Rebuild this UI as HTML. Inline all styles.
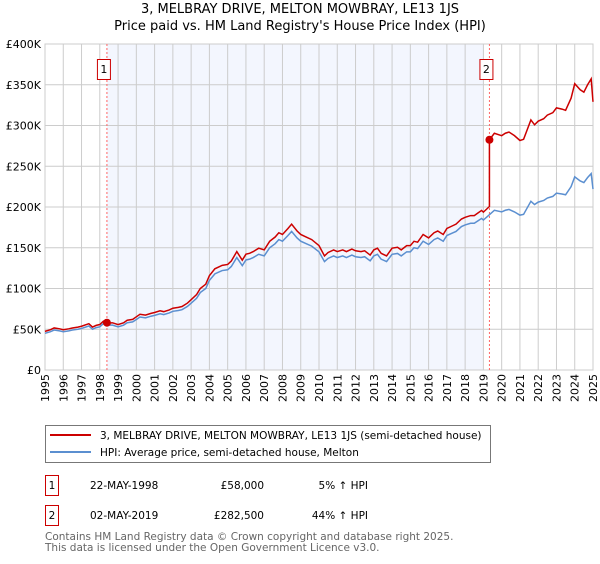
<!DOCTYPE html>
<html><head><meta charset="utf-8"><style>
body{margin:0;background:#fff;font-family:"DejaVu Sans","Liberation Sans",sans-serif;}
svg text{font-family:"DejaVu Sans","Liberation Sans",sans-serif;}
</style></head><body>
<svg id="c" width="600" height="560" viewBox="0 0 600 560">
<text x="300" y="13" text-anchor="middle" font-size="13">3, MELBRAY DRIVE, MELTON MOWBRAY, LE13 1JS</text>
<text x="300" y="30" text-anchor="middle" font-size="13">Price paid vs. HM Land Registry's House Price Index (HPI)</text>
<g id="plot"></g>
<rect x="45.5" y="425.5" width="445" height="37" fill="#fff" stroke="#777"/>
<line x1="50" y1="435" x2="91" y2="435" stroke="#cc0000" stroke-width="2"/>
<text x="100" y="439" font-size="10.5">3, MELBRAY DRIVE, MELTON MOWBRAY, LE13 1JS (semi-detached house)</text>
<line x1="50" y1="452" x2="91" y2="452" stroke="#5b8fd0" stroke-width="2"/>
<text x="100" y="456" font-size="10.5">HPI: Average price, semi-detached house, Melton</text>
<g>
<rect x="45.5" y="475.5" width="13" height="20" fill="#fff" stroke="#cc0000"/>
<text x="52" y="489" font-size="10.5" text-anchor="middle">1</text>
<text x="90" y="489" font-size="10.5">22-MAY-1998</text>
<text x="264" y="489" font-size="10.5" text-anchor="end">£58,000</text>
<text x="368" y="489" font-size="10.5" text-anchor="end">5% ↑ HPI</text>
</g>
<g>
<rect x="45.5" y="505.5" width="13" height="20" fill="#fff" stroke="#cc0000"/>
<text x="52" y="519" font-size="10.5" text-anchor="middle">2</text>
<text x="90" y="519" font-size="10.5">02-MAY-2019</text>
<text x="264" y="519" font-size="10.5" text-anchor="end">£282,500</text>
<text x="368" y="519" font-size="10.5" text-anchor="end">44% ↑ HPI</text>
</g>
<text x="45" y="540" font-size="10.5" fill="#666">Contains HM Land Registry data © Crown copyright and database right 2025.</text>
<text x="45" y="551" font-size="10.5" fill="#666">This data is licensed under the Open Government Licence v3.0.</text>
</svg>
<script>
const hpiDates=[1995,1995.3,1995.5,1995.8,1996,1996.3,1996.5,1996.8,1997,1997.4,1997.6,1997.8,1998,1998.2,1998.4,1998.7,1999,1999.3,1999.5,1999.8,2000,2000.2,2000.5,2000.8,2001,2001.3,2001.5,2001.8,2002,2002.3,2002.5,2002.8,2003,2003.3,2003.5,2003.8,2004,2004.3,2004.5,2004.7,2005,2005.2,2005.5,2005.8,2006,2006.2,2006.4,2006.7,2007,2007.3,2007.6,2007.8,2008,2008.3,2008.5,2008.8,2009,2009.3,2009.6,2010,2010.3,2010.5,2010.8,2011,2011.3,2011.5,2011.8,2012,2012.3,2012.5,2012.8,2013,2013.2,2013.4,2013.7,2014,2014.3,2014.5,2014.8,2015,2015.2,2015.4,2015.7,2016,2016.3,2016.5,2016.8,2017,2017.3,2017.5,2017.8,2018,2018.3,2018.5,2018.7,2018.9,2019,2019.3,2019.6,2020,2020.2,2020.4,2020.7,2021,2021.2,2021.4,2021.6,2021.8,2022,2022.3,2022.5,2022.8,2023,2023.3,2023.5,2023.8,2024,2024.3,2024.5,2024.7,2024.9,2025];
const hpiValues=[45,47,49,48,47,48,49,50,51,54,50,52,53,57,55,55,53,55,58,59,62,65,64,66,67,69,68,70,72,73,74,78,82,88,95,100,110,118,120,122,123,127,138,128,135,136,138,142,140,150,155,160,158,165,170,162,158,155,152,145,133,137,140,138,140,138,141,139,138,139,134,140,142,136,133,142,143,140,145,145,150,149,158,154,160,162,158,165,168,170,176,178,180,180,183,186,184,190,196,194,196,197,194,190,191,199,207,203,206,208,211,213,217,216,215,225,237,232,230,236,241,222,227,231,236,245];
const saleDates=[1998.39,2019.33];
const salePrices=[58,282.5];
const yTicks=[0,50,100,150,200,250,300,350,400];
const yTickLabels=["£0","£50K","£100K","£150K","£200K","£250K","£300K","£350K","£400K"];
const xYears=[1995,1996,1997,1998,1999,2000,2001,2002,2003,2004,2005,2006,2007,2008,2009,2010,2011,2012,2013,2014,2015,2016,2017,2018,2019,2020,2021,2022,2023,2024,2025];
const X0=45,X1=593,Y0=370,Y1=44;
const sx=t=>X0+(t-1995)/30*(X1-X0);
const sy=v=>Y0-v/400*(Y0-Y1);
const ns="http://www.w3.org/2000/svg";
const g=document.getElementById('plot');
function mk(tag,attrs,name){const e=document.createElementNS(ns,tag);for(const k in attrs)e.setAttribute(k,attrs[k]);


g.appendChild(e);return e;}
function hpiAt(t){for(let i=0;i<hpiDates.length-1;i++){if(t>=hpiDates[i]&&t<=hpiDates[i+1]){const f=(t-hpiDates[i])/(hpiDates[i+1]-hpiDates[i]);return hpiValues[i]+f*(hpiValues[i+1]-hpiValues[i]);}}return hpiValues[hpiValues.length-1];}
mk('rect',{x:sx(saleDates[0]),y:Y1,width:sx(2019)-sx(saleDates[0]),height:Y0-Y1,fill:'#f3f6fe'},'owned-period-shade');
xYears.forEach(y=>{mk('line',{x1:sx(y),x2:sx(y),y1:Y1,y2:Y0,stroke:'#ccc','stroke-width':1},'x-gridline');
const t=mk('text',{x:0,y:0,'font-size':11,'text-anchor':'end',transform:`translate(${sx(y)+4},${Y0+4}) rotate(-90)`},'x-tick-label');t.textContent=y;});
yTicks.forEach((v,i)=>{mk('line',{x1:X0,x2:X1,y1:sy(v),y2:sy(v),stroke:'#ccc','stroke-width':1},'y-gridline');
const t=mk('text',{x:X0-4,y:sy(v)+4,'font-size':11,'text-anchor':'end'},'y-tick-label');t.textContent=yTickLabels[i];});
mk('rect',{x:X0,y:Y1,width:X1-X0,height:Y0-Y1,fill:'none',stroke:'#ccc'},'plot-border');
saleDates.forEach((d,i)=>{mk('line',{x1:sx(d),x2:sx(d),y1:Y1,y2:Y0,stroke:'#ff6666','stroke-dasharray':'2,2','stroke-width':1},'sale-marker-line');
mk('rect',{x:sx(d)-9.5,y:59.5,width:13,height:20,fill:'#fff',stroke:'#cc0000'},'sale-label-box-'+(i+1));
const t=mk('text',{x:sx(d)-3,y:73,'font-size':11,'text-anchor':'middle'},'sale-label-'+(i+1));t.textContent=i+1;});
mk('polyline',{points:hpiDates.map((t,i)=>sx(t)+','+sy(hpiValues[i])).join(' '),fill:'none',stroke:'#5b8fd0','stroke-width':1.5},'hpi-line');
const f0=salePrices[0]/hpiAt(saleDates[0]),f1=salePrices[1]/hpiAt(saleDates[1]);
const pts=[];
hpiDates.forEach((t,i)=>{if(t<saleDates[1])pts.push([t,hpiValues[i]*f0]);});
pts.push([saleDates[1],hpiAt(saleDates[1])*f0]);
pts.push([saleDates[1],salePrices[1]]);
hpiDates.forEach((t,i)=>{if(t>saleDates[1])pts.push([t,hpiValues[i]*f1]);});
mk('polyline',{points:pts.map(p=>sx(p[0])+','+sy(p[1])).join(' '),fill:'none',stroke:'#cc0000','stroke-width':1.5},'property-price-line');
saleDates.forEach((d,i)=>mk('circle',{cx:sx(d),cy:sy(salePrices[i]),r:4,fill:'#cc0000'},'sale-point-'+(i+1)));
</script>
</body></html>
